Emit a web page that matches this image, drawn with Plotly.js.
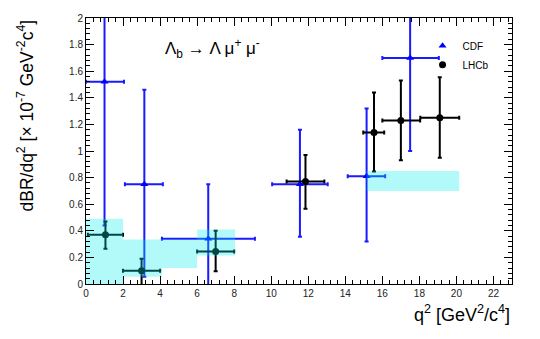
<!DOCTYPE html>
<html>
<head>
<meta charset="utf-8">
<script src="https://cdn.plot.ly/plotly-3.0.1.min.js"></script>
<style>html,body{margin:0;padding:0;background:#fff;}#chart{width:540px;height:339px;}</style>
</head>
<body>
<div id="chart"></div>
<script>
// CDF measurements
const cdfX    = [1.0, 3.15, 6.6, 11.55, 15.15, 17.5];
const cdfY    = [1.52, 0.75, 0.34, 0.75, 0.81, 1.70];
const cdfYLo  = [0.44, 0.055, -0.07, 0.356, 0.32, 1.0];
const cdfYHi  = [2.6, 1.46, 0.75, 1.16, 1.32, 2.4];
const cdfXLo  = [0.0, 2.1, 4.1, 10.05, 14.13, 16.0];
const cdfXHi  = [2.05, 4.15, 9.12, 13.05, 16.15, 19.05];

// LHCb measurements
const lhcbX   = [1.05, 3.0, 7.0, 11.85, 15.55, 17.0, 19.1];
const lhcbY   = [0.37, 0.10, 0.245, 0.77, 1.14, 1.23, 1.25];
const lhcbYLo = [0.265, -0.02, 0.095, 0.566, 0.845, 0.93, 0.95];
const lhcbYHi = [0.47, 0.19, 0.40, 0.97, 1.44, 1.53, 1.555];
const lhcbXLo = [0.1, 2.0, 6.0, 10.83, 14.97, 16.0, 18.05];
const lhcbXHi = [2.0, 4.0, 8.0, 12.87, 16.1, 18.04, 20.15];

// SM prediction bands
const smXLo = [0, 2, 4.1, 6, 15.15];
const smXHi = [2, 4.1, 6, 8.05, 20.15];
const smYLo = [0, 0.055, 0.12, 0.215, 0.70];
const smYHi = [0.49, 0.335, 0.335, 0.41, 0.85];

const FONT = 'Liberation Sans, Arial, sans-serif';

function errs(v, lo, hi) {
  return {
    plus: v.map((d, i) => hi[i] - d),
    minus: v.map((d, i) => d - lo[i])
  };
}
const cdfEy = errs(cdfY, cdfYLo, cdfYHi), cdfEx = errs(cdfX, cdfXLo, cdfXHi);
const lhEy = errs(lhcbY, lhcbYLo, lhcbYHi), lhEx = errs(lhcbX, lhcbXLo, lhcbXHi);

const bx = [], by = [];
smXLo.forEach((x0, i) => {
  const x1 = smXHi[i], y0 = smYLo[i], y1 = smYHi[i];
  bx.push(x0, x1, x1, x0, x0, null);
  by.push(y0, y0, y1, y1, y0, null);
});

const traces = [
  {
    type: 'scatter', mode: 'markers', name: 'CDF',
    x: cdfX, y: cdfY,
    marker: {symbol: 'triangle-up', size: 7, color: '#0000ff'},
    error_y: {type: 'data', symmetric: false, array: cdfEy.plus, arrayminus: cdfEy.minus, color: '#1a1aff', thickness: 2, width: 2},
    error_x: {type: 'data', symmetric: false, array: cdfEx.plus, arrayminus: cdfEx.minus, color: '#1a1aff', thickness: 2, width: 2}
  },
  {
    type: 'scatter', mode: 'markers', name: 'LHCb',
    x: lhcbX, y: lhcbY,
    marker: {symbol: 'circle', size: 7, color: '#000'},
    error_y: {type: 'data', symmetric: false, array: lhEy.plus, arrayminus: lhEy.minus, color: '#000', thickness: 2, width: 2},
    error_x: {type: 'data', symmetric: false, array: lhEx.plus, arrayminus: lhEx.minus, color: '#000', thickness: 2, width: 2}
  },
  {
    type: 'scatter', mode: 'lines', x: bx, y: by, fill: 'toself',
    fillcolor: 'rgba(0,240,240,0.3)', line: {width: 0}, showlegend: false, hoverinfo: 'skip'
  }
];

const axisCommon = {
  ticks: 'inside', ticklen: 8, tickwidth: 1, tickcolor: '#000',
  showline: true, linecolor: '#000', linewidth: 1, mirror: 'ticks',
  showgrid: false, zeroline: false,
  tickfont: {family: FONT, size: 10, color: '#222'}
};

const layout = {
  width: 540, height: 339,
  margin: {l: 86, r: 28, t: 18, b: 55},
  paper_bgcolor: '#fff', plot_bgcolor: '#fff',
  font: {family: FONT},
  showlegend: true,
  legend: {x: 0.79, y: 0.95, xanchor: 'left', yanchor: 'top', bgcolor: 'rgba(0,0,0,0)',
           font: {family: FONT, size: 10, color: '#000'}, itemwidth: 30, tracegroupgap: 0},
  xaxis: Object.assign({}, axisCommon, {
    range: [0, 23], tick0: 0, dtick: 2,
    minor: {dtick: 0.4, ticklen: 4, ticks: 'inside', tickcolor: '#000'}
  }),
  yaxis: Object.assign({}, axisCommon, {
    range: [0, 2], tick0: 0, dtick: 0.2,
    minor: {dtick: 0.04, ticklen: 4, ticks: 'inside', tickcolor: '#000'}
  }),
  annotations: [
    {xref: 'paper', yref: 'paper', x: 0.181, y: 0.887, xanchor: 'left', yanchor: 'middle', showarrow: false,
     text: 'Λ<sub>b</sub> → Λ μ<sup>+</sup> μ<sup>-</sup>', font: {family: FONT, size: 17, color: '#000'}},
    {xref: 'paper', yref: 'paper', x: 1.0, y: -0.06, xanchor: 'right', yanchor: 'top', showarrow: false,
     text: 'q<sup>2</sup> [GeV<sup>2</sup>/c<sup>4</sup>]', font: {family: FONT, size: 18, color: '#000'}},
    {xref: 'paper', yref: 'paper', x: -0.142, y: 1.0, xanchor: 'center', yanchor: 'top', showarrow: false, textangle: -90,
     text: 'dBR/dq<sup>2</sup> [× 10<sup>-7</sup> GeV<sup>-2</sup>c<sup>4</sup>]', font: {family: FONT, size: 17.5, color: '#000'}}
  ]
};

Plotly.newPlot('chart', traces, layout, {displayModeBar: false, staticPlot: true});
</script>
</body>
</html>
